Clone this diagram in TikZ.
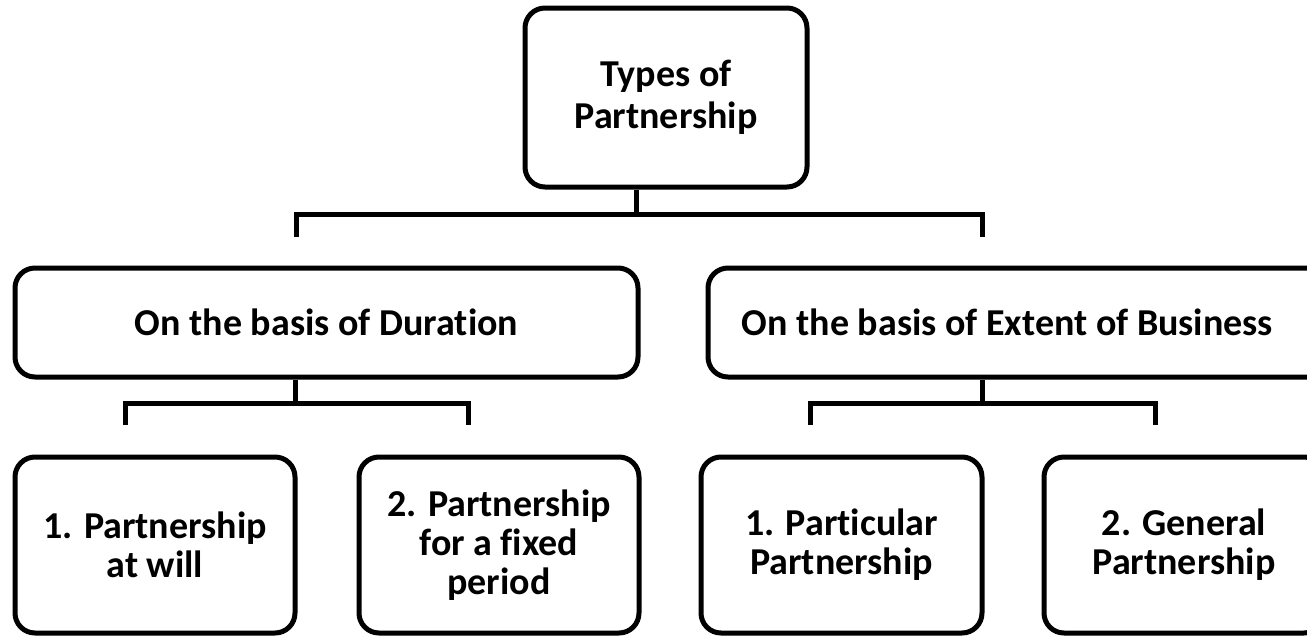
\documentclass[tikz,border=0pt]{standalone}
\usepackage{fontspec}
\setmainfont{Carlito}[Ligatures={NoCommon}]
\begin{document}
\begin{tikzpicture}[x=1pt,y=-1pt,
  box/.style={draw=black, line width=5pt, rounded corners=20pt, fill=white,
    inner sep=0pt, align=center, font=\bfseries\fontsize{38}{42}\selectfont},
  tight/.style={font=\bfseries\fontsize{38}{39}\selectfont},
  conn/.style={draw=black, line width=5pt, line join=miter}]
\useasboundingbox (0,0) rectangle (1307,635);
\clip (0,0) rectangle (1307,635);
% boxes
\node[box, minimum width=282pt, minimum height=179pt] (top) at (666,97.5) {Types of\\Partnership};
\node[box, minimum width=623pt, minimum height=109pt] (dur) at (326.5,322.5) {On the basis of Duration};
\node[box, minimum width=623pt, minimum height=109pt] (ext) at (1019.5,322.5) {On the basis of Extent of Business\hspace*{24pt}};
\node[box, tight, minimum width=280pt, minimum height=176pt] (b1) at (155,545) {1. Partnership\\at will};
\node[box, tight, minimum width=280pt, minimum height=176pt] (b2) at (499,545) {2. Partnership\\for a fixed\\period};
\node[box, tight, minimum width=281pt, minimum height=176pt] (b3) at (841.5,545) {1. Particular\\Partnership};
\node[box, tight, minimum width=280pt, minimum height=176pt] (b4) at (1184,545) {2. General\\Partnership};
% first level connectors
\coordinate (j0) at (636,214);
\coordinate (ja) at (296,214);
\coordinate (jb) at (982,214);
\coordinate (sa) at (296,237);
\coordinate (sb) at (982,237);
\draw[conn] (top.south -| j0) -- (j0);
\draw[conn] (sa) -- (ja) -- (jb) -- (sb);
% second level, duration
\coordinate (ka) at (295,403);
\coordinate (ka1) at (125,403);
\coordinate (ka2) at (468,403);
\coordinate (ta1) at (125,425);
\coordinate (ta2) at (468,425);
\draw[conn] (dur.south -| ka) -- (ka);
\draw[conn] (ta1) -- (ka1) -- (ka2) -- (ta2);
% second level, extent
\coordinate (kb) at (982,403);
\coordinate (kb1) at (810,403);
\coordinate (kb2) at (1155,403);
\coordinate (tb1) at (810,425);
\coordinate (tb2) at (1155,425);
\draw[conn] (ext.south -| kb) -- (kb);
\draw[conn] (tb1) -- (kb1) -- (kb2) -- (tb2);
\end{tikzpicture}
\end{document}
